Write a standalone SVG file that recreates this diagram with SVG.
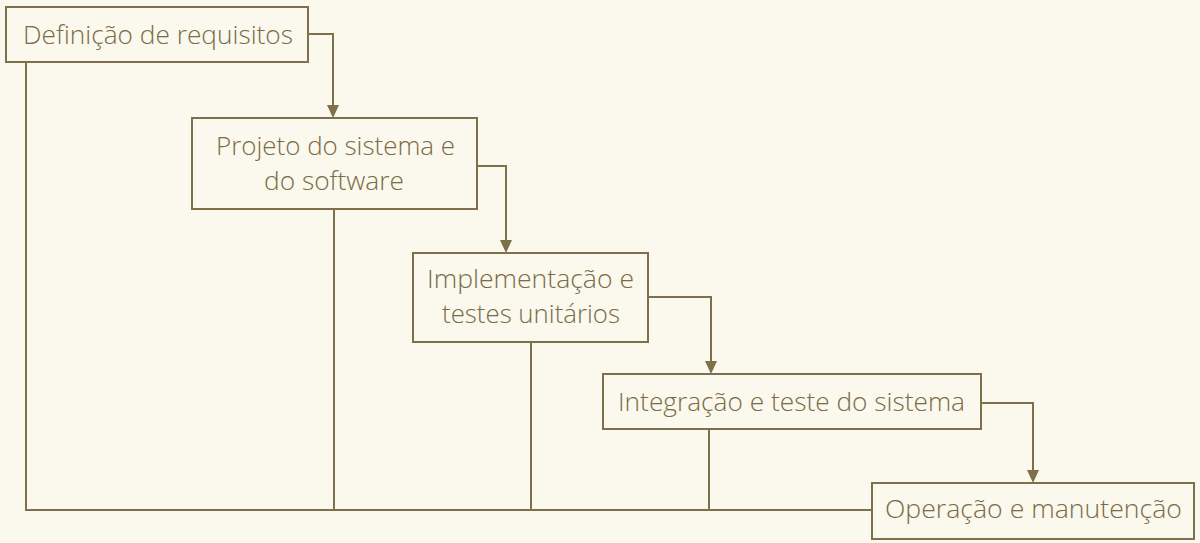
<svg xmlns="http://www.w3.org/2000/svg" width="1200" height="543" viewBox="0 0 1200 543">
<style>
.box{fill:none;stroke:#7d704b;stroke-width:2}
.lbl{font-family:"Open Sans","Liberation Sans",sans-serif;font-weight:300;font-size:25.5px;fill:#7a6c45;text-anchor:middle}
.con{fill:none;stroke:#7d704b;stroke-width:2}
</style>
<rect width="1200" height="543" fill="#fbf8ee"/>
<g id="connectors">
<path class="con" d="M26,62 V510 H872"/>
<path class="con" d="M334,209 V510"/>
<path class="con" d="M531,342 V510"/>
<path class="con" d="M709,429 V510"/>
<path class="con" d="M308,34 H333 V105"/>
<polygon points="327,105 339,105 333,118" fill="#7d704b"/>
<path class="con" d="M477,166 H506 V240"/>
<polygon points="500,240 512,240 506,253" fill="#7d704b"/>
<path class="con" d="M648,297 H711 V361"/>
<polygon points="705,361 717,361 711,374" fill="#7d704b"/>
<path class="con" d="M981,403 H1033 V470"/>
<polygon points="1027,470 1039,470 1033,483" fill="#7d704b"/>
</g>
<g id="n1">
<rect class="box" x="6" y="7" width="302" height="55"/>
<text class="lbl" x="158" y="44" textLength="270" lengthAdjust="spacingAndGlyphs">Definição de requisitos</text>
</g>
<g id="n2">
<rect class="box" x="192" y="118" width="285" height="91"/>
<text class="lbl" x="335.5" y="155" textLength="239" lengthAdjust="spacingAndGlyphs">Projeto do sistema e</text>
<text class="lbl" x="334" y="190" textLength="140" lengthAdjust="spacingAndGlyphs">do software</text>
</g>
<g id="n3">
<rect class="box" x="413" y="253" width="235" height="89"/>
<text class="lbl" x="530.5" y="288" textLength="207" lengthAdjust="spacingAndGlyphs">Implementação e</text>
<text class="lbl" x="531" y="323" textLength="178" lengthAdjust="spacingAndGlyphs">testes unitários</text>
</g>
<g id="n4">
<rect class="box" x="603" y="374" width="378" height="55"/>
<text class="lbl" x="791.5" y="411" textLength="347" lengthAdjust="spacingAndGlyphs">Integração e teste do sistema</text>
</g>
<g id="n5">
<rect class="box" x="872" y="483" width="322" height="56"/>
<text class="lbl" x="1033.5" y="518" textLength="297" lengthAdjust="spacingAndGlyphs">Operação e manutenção</text>
</g>
</svg>
